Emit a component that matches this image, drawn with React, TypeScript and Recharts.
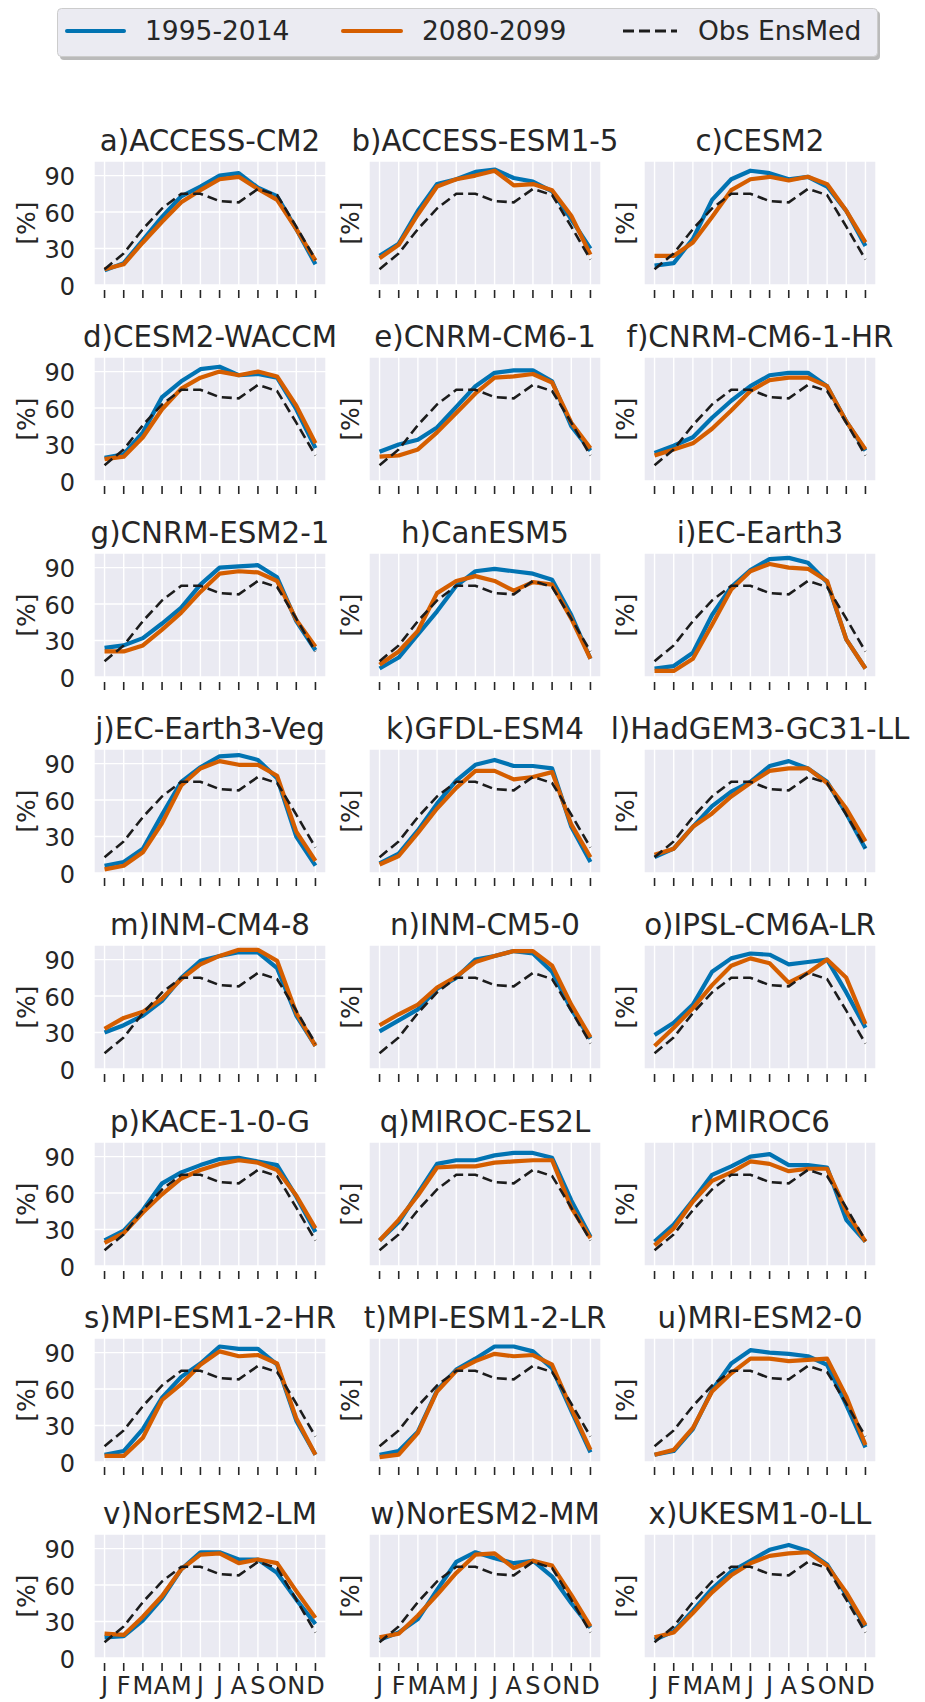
import React from 'react';
import { LineChart, Line, XAxis, YAxis, CartesianGrid } from 'recharts';

const MONTHS = ['J', 'F', 'M', 'A', 'M', 'J', 'J', 'A', 'S', 'O', 'N', 'D'];
const Y_TICKS = [0, 30, 60, 90];
const SERIES_NAMES = ['1995-2014', '2080-2099', 'Obs EnsMed'];

// observed ensemble median, same in every panel
const OBS_ENSMED = [13, 26, 46, 63, 75, 75, 69, 68, 79, 74, 48, 21];

const MODELS = [
  'a)ACCESS-CM2', 'b)ACCESS-ESM1-5', 'c)CESM2',
  'd)CESM2-WACCM', 'e)CNRM-CM6-1', 'f)CNRM-CM6-1-HR',
  'g)CNRM-ESM2-1', 'h)CanESM5', 'i)EC-Earth3',
  'j)EC-Earth3-Veg', 'k)GFDL-ESM4', 'l)HadGEM3-GC31-LL',
  'm)INM-CM4-8', 'n)INM-CM5-0', 'o)IPSL-CM6A-LR',
  'p)KACE-1-0-G', 'q)MIROC-ES2L', 'r)MIROC6',
  's)MPI-ESM1-2-HR', 't)MPI-ESM1-2-LR', 'u)MRI-ESM2-0',
  'v)NorESM2-LM', 'w)NorESM2-MM', 'x)UKESM1-0-LL',
];

// 1995-2014
const HIST = [
  [12, 18, 37, 56, 73, 81, 90, 92, 80, 73, 46, 17],
  [24, 34, 61, 83, 87, 93, 95, 88, 85, 77, 54, 30],
  [16, 18, 38, 70, 87, 94, 92, 87, 89, 81, 61, 32],
  [19, 22, 40, 69, 82, 92, 94, 87, 88, 85, 59, 27],
  [24, 30, 34, 44, 61, 78, 89, 91, 91, 82, 45, 25],
  [23, 29, 36, 52, 66, 78, 87, 89, 89, 78, 49, 25],
  [24, 26, 32, 44, 57, 76, 90, 91, 92, 82, 46, 22],
  [7, 16, 35, 54, 75, 87, 89, 87, 85, 80, 51, 15],
  [7, 9, 20, 51, 74, 88, 97, 98, 94, 78, 31, 7],
  [6, 9, 20, 48, 75, 87, 96, 97, 93, 78, 30, 6],
  [8, 16, 35, 57, 76, 89, 93, 88, 88, 86, 38, 9],
  [13, 20, 38, 55, 67, 75, 88, 92, 86, 75, 49, 20],
  [30, 36, 44, 56, 75, 89, 93, 96, 96, 83, 44, 19],
  [31, 40, 49, 66, 75, 90, 93, 97, 95, 80, 49, 25],
  [28, 38, 53, 80, 91, 95, 94, 86, 88, 90, 63, 34],
  [21, 29, 46, 68, 77, 83, 88, 89, 86, 83, 57, 28],
  [21, 36, 60, 84, 87, 87, 91, 93, 93, 89, 54, 24],
  [20, 34, 54, 75, 82, 90, 92, 83, 83, 81, 38, 20],
  [6, 9, 27, 53, 70, 81, 95, 93, 93, 80, 34, 6],
  [6, 9, 25, 59, 76, 85, 95, 95, 91, 77, 42, 8],
  [6, 9, 27, 59, 81, 92, 90, 89, 87, 80, 47, 12],
  [17, 18, 31, 49, 73, 87, 87, 81, 81, 70, 48, 28],
  [15, 21, 32, 56, 79, 87, 82, 78, 80, 67, 45, 25],
  [15, 22, 39, 57, 71, 80, 89, 93, 88, 77, 52, 26],
];

// 2080-2099
const FUT = [
  [13, 17, 35, 52, 68, 78, 87, 89, 79, 70, 46, 20],
  [22, 33, 58, 81, 87, 90, 94, 82, 83, 78, 57, 25],
  [24, 24, 35, 56, 78, 87, 89, 86, 89, 83, 61, 35],
  [18, 20, 36, 59, 76, 85, 90, 87, 90, 86, 62, 31],
  [20, 21, 26, 40, 56, 72, 85, 86, 88, 81, 48, 27],
  [21, 26, 31, 43, 58, 74, 83, 85, 85, 78, 49, 26],
  [21, 21, 26, 39, 53, 70, 85, 87, 86, 79, 47, 25],
  [10, 21, 38, 69, 79, 83, 79, 71, 78, 76, 48, 15],
  [5, 5, 15, 43, 72, 87, 93, 90, 89, 79, 31, 7],
  [3, 6, 17, 41, 72, 86, 92, 89, 89, 80, 34, 10],
  [7, 14, 33, 53, 70, 84, 84, 77, 79, 83, 40, 13],
  [15, 20, 38, 49, 63, 74, 84, 86, 86, 74, 53, 26],
  [33, 42, 47, 58, 74, 86, 93, 98, 98, 89, 46, 19],
  [36, 45, 53, 67, 76, 88, 93, 97, 97, 85, 53, 26],
  [19, 34, 50, 69, 85, 91, 87, 71, 79, 90, 75, 37],
  [19, 27, 44, 59, 72, 79, 84, 87, 85, 79, 58, 31],
  [21, 38, 58, 81, 82, 82, 85, 86, 87, 87, 48, 23],
  [17, 31, 53, 70, 77, 86, 84, 78, 80, 80, 45, 20],
  [5, 5, 20, 51, 64, 80, 91, 87, 88, 81, 36, 6],
  [4, 6, 24, 58, 75, 83, 89, 87, 88, 80, 44, 10],
  [6, 10, 28, 58, 73, 85, 85, 83, 84, 85, 54, 14],
  [20, 19, 34, 51, 73, 85, 86, 78, 81, 78, 55, 33],
  [17, 20, 35, 52, 70, 85, 86, 74, 80, 76, 52, 26],
  [17, 21, 37, 54, 68, 78, 84, 86, 87, 76, 54, 27],
];

const BLUE = '#0173B2';
const ORANGE = '#D55E00';
const OBS_COLOR = '#1C1C1C';
const TEXT = '#262626';
const FONT = '"DejaVu Sans", sans-serif';

// layout (px)
const COL_STEP = 275;
const ROW_STEP = 196.1;
const FIRST_PLOT_TOP = 161;
const MARGIN_TOP = 50;
const Y_AXIS_W = 94;
const PLOT_W = 232;
const PLOT_H = 124;
const CHART_W = Y_AXIS_W + PLOT_W + 6;
const X_AXIS_H = 44;
const CHART_H = MARGIN_TOP + PLOT_H + X_AXIS_H;
const PLOT_BOTTOM = MARGIN_TOP + PLOT_H;
const TITLE_BOX_W = 340;

const MonthTick = (props: any) => {
  const { x, payload, showLabel } = props;
  return (
    <g>
      <line x1={x} x2={x} y1={PLOT_BOTTOM + 5} y2={PLOT_BOTTOM + 13} stroke={TEXT} strokeWidth={1.6} />
      {showLabel && (
        <text x={x} y={PLOT_BOTTOM + 36} textAnchor="middle" fontSize={24} fill={TEXT} fontFamily={FONT}>
          {MONTHS[payload.value]}
        </text>
      )}
    </g>
  );
};

const ValueTick = (props: any) => {
  const { y, payload } = props;
  return (
    <text x={Y_AXIS_W - 19} y={y + 1} dy="0.36em" textAnchor="end" fontSize={24} fill={TEXT} fontFamily={FONT}>
      {payload.value}
    </text>
  );
};

const YLabel = (props: any) => {
  const cx = props.cx;
  const cy = MARGIN_TOP + PLOT_H / 2;
  return (
    <text
      x={cx}
      y={cy}
      dy="0.36em"
      transform={`rotate(-90 ${cx} ${cy})`}
      textAnchor="middle"
      fontSize={25}
      fill={TEXT}
      fontFamily={FONT}
    >
      [%]
    </text>
  );
};

const Panel = ({ idx }: { idx: number }) => {
  const row = Math.floor(idx / 3);
  const col = idx % 3;
  const data = MONTHS.map((_, i) => ({
    m: i,
    hist: HIST[idx][i],
    fut: FUT[idx][i],
    obs: OBS_ENSMED[i],
  }));
  const left = col * COL_STEP;
  const top = Math.round(FIRST_PLOT_TOP - MARGIN_TOP + row * ROW_STEP);
  const bottomRow = row === 7;
  const titleLeft = Y_AXIS_W + PLOT_W / 2 - TITLE_BOX_W / 2;

  return (
    <div style={{ position: 'absolute', left, top, width: CHART_W, height: CHART_H }}>
      <LineChart width={CHART_W} height={CHART_H} data={data} margin={{ top: MARGIN_TOP, right: 6, bottom: 0, left: 0 }}>
        <CartesianGrid stroke="#FFFFFF" strokeWidth={1.4} fill="#EAEAF2" fillOpacity={1} />
        <XAxis
          dataKey="m"
          type="number"
          domain={[-0.55, 11.55]}
          ticks={MONTHS.map((_, i) => i)}
          interval={0}
          height={X_AXIS_H}
          axisLine={false}
          tickLine={false}
          tickSize={0}
          tick={<MonthTick showLabel={bottomRow} />}
        />
        <YAxis
          domain={[0, 102]}
          ticks={Y_TICKS}
          width={Y_AXIS_W}
          axisLine={false}
          tickLine={false}
          tickSize={0}
          tick={col === 0 ? <ValueTick /> : false}
          label={<YLabel cx={col === 0 ? 26 : 75} />}
        />
        <Line dataKey="hist" name={SERIES_NAMES[0]} stroke={BLUE} strokeWidth={4.2} strokeLinejoin="round" dot={false} isAnimationActive={false} />
        <Line dataKey="fut" name={SERIES_NAMES[1]} stroke={ORANGE} strokeWidth={4.2} strokeLinejoin="round" dot={false} isAnimationActive={false} />
        <Line dataKey="obs" name={SERIES_NAMES[2]} stroke={OBS_COLOR} strokeWidth={2.6} strokeDasharray="10 5" dot={false} isAnimationActive={false} />
      </LineChart>
      <svg
        width={TITLE_BOX_W}
        height={MARGIN_TOP}
        style={{ position: 'absolute', left: titleLeft, top: 0, pointerEvents: 'none' }}
      >
        <text x={TITLE_BOX_W / 2} y={MARGIN_TOP - 10} textAnchor="middle" fontSize={29.3} fill={TEXT} fontFamily={FONT}>
          {MODELS[idx]}
        </text>
      </svg>
    </div>
  );
};

const LEGEND_ITEMS = [
  { name: SERIES_NAMES[0], color: BLUE, x: 67, w: 57, dash: undefined as string | undefined, sw: 4 },
  { name: SERIES_NAMES[1], color: ORANGE, x: 343, w: 58, dash: undefined as string | undefined, sw: 4 },
  { name: SERIES_NAMES[2], color: OBS_COLOR, x: 623, w: 54, dash: '11 5', sw: 3 },
];

const TopLegend = () => (
  <svg width={925} height={70} style={{ position: 'absolute', left: 0, top: 0 }}>
    <rect x={60} y={11} width={820} height={49} rx={4} fill="#8C8C8C" opacity={0.6} />
    <rect x={57.5} y={8.5} width={820} height={48} rx={4} fill="#EBEBF2" stroke="#CCCCCC" strokeWidth={1} />
    {LEGEND_ITEMS.map((it) => (
      <g key={it.name}>
        <line x1={it.x} x2={it.x + it.w} y1={31} y2={31} stroke={it.color} strokeWidth={it.sw} strokeDasharray={it.dash} strokeLinecap={it.dash ? 'butt' : 'round'} />
        <text x={it.x + it.w + 21} y={40} fontSize={26.5} fill={TEXT} fontFamily={FONT}>
          {it.name}
        </text>
      </g>
    ))}
  </svg>
);

export default function App() {
  return (
    <div style={{ position: 'absolute', left: 0, top: 0, width: 925, height: 1702, background: '#FFFFFF', overflow: 'hidden' }}>
      <TopLegend />
      {MODELS.map((_, i) => (
        <Panel key={i} idx={i} />
      ))}
    </div>
  );
}
